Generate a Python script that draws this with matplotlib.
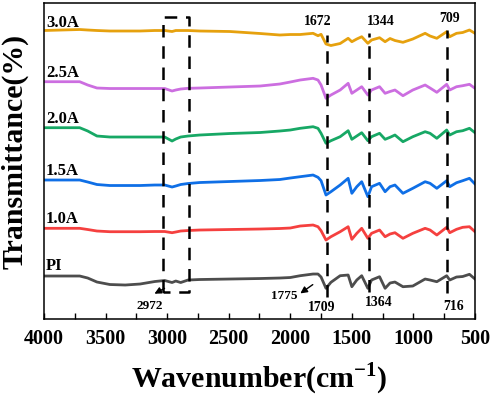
import numpy as np
import matplotlib
matplotlib.use("Agg")
import matplotlib.pyplot as plt

# -- data (arbitrary transmittance units, curves stacked) --
wavenumber = [4000, 3710, 3645, 3570, 3465, 3340, 3220, 3100, 3020, 2960, 2930, 2890,
              2830, 2735, 2490, 2245, 2085, 2000, 1920, 1815, 1775, 1750, 1710, 1670,
              1595, 1530, 1500, 1460, 1420, 1370, 1340, 1275, 1230, 1190, 1150, 1085,
              1005, 905, 865, 810, 730, 705, 650, 600, 545, 500]

t_pi = [44, 44, 42, 38, 35.5, 35, 36, 38.5, 39.5, 37.5, 39, 37.5,
        40, 40.5, 41, 41.5, 42, 42.5, 44.3, 46, 46, 43, 31.7, 37.7,
        44.3, 45, 33.3, 40, 44.3, 31.7, 40, 43.3, 31.7, 37, 38, 33.3,
        34, 41, 40, 38.3, 44.3, 40, 43, 43.5, 45.7, 41]
t_10 = [91.7, 91.7, 90.5, 89, 88.3, 88.3, 88.3, 88.5, 88.5, 87.3, 88, 89,
        89.5, 90, 90.5, 91, 91.5, 92, 94, 95, 93.3, 89.3, 80, 83.3,
        88.3, 93.3, 80.7, 86.7, 91.7, 81.7, 86.7, 90, 83.3, 86, 87.3, 81.7,
        86.7, 91.7, 90, 85, 92.7, 87.3, 90.7, 92.7, 93.3, 88.3]
t_15 = [140, 140, 138, 135.5, 134.5, 134.5, 134.5, 135, 135, 133, 134, 135.5,
        136.5, 137.5, 138.5, 139.5, 140.5, 142, 143.3, 145, 142.7, 139.3, 125, 128.3,
        135, 141.7, 126.7, 133.3, 138.3, 123.3, 133.3, 136.7, 128.3, 133.3, 135, 126.7,
        131.7, 138.3, 136.7, 131.7, 139.3, 133.3, 137.3, 139.3, 141.7, 136]
t_20 = [192.3, 192.3, 189, 184, 183, 183, 183, 183, 183, 179, 181, 183,
        184, 185, 186.5, 187.5, 189, 190, 191.7, 193.3, 191.7, 186.7, 176.7, 179.3,
        183.3, 189.3, 180.7, 184, 187.3, 179.3, 183.3, 186.7, 180.7, 182.7, 185, 178.3,
        183.3, 188.3, 186.7, 181.7, 190, 185, 188.3, 189.3, 191.7, 187.3]
t_25 = [238.3, 238.3, 235, 232, 231.5, 231.5, 231.5, 231.5, 231.5, 229, 230, 231,
        231.7, 232, 233, 234, 236, 238, 240, 241.7, 240, 235, 221.7, 225,
        230, 236.7, 226.7, 230, 233.3, 225, 230, 233.3, 226.7, 228.5, 230, 224.3,
        230, 235, 232, 227.7, 235.7, 230, 233.3, 234.3, 235.7, 231.7]
t_30 = [289.5, 290.5, 290, 289.5, 289, 289, 289, 289.5, 289.5, 288.5, 289.5, 289.5,
        289.5, 289, 288.5, 286.5, 285, 285.5, 285.5, 286.7, 284.3, 285.7, 276, 274.5,
        276.5, 281.7, 278.3, 281, 283.3, 276.7, 280, 282.3, 278.3, 281.5, 279.5, 277.7,
        281, 286.7, 284, 281.7, 288.3, 283.3, 286.7, 287.5, 290, 286.7]

names = ["PI", "1.0A", "1.5A", "2.0A", "2.5A", "3.0A"]
colors = ["#4d4d4d", "#f5403f", "#0f6fe6", "#17a865", "#cc6ee0", "#e6a10e"]
name_y = [54, 101, 149, 201, 247, 297]

# marked bands
band_lines = [1702, 1361, 727]
band_top = [285, 287, 290]
band_bot = [23, 28, 27]
box_x = [3034, 2823]
box_y = [28, 303]

top_labels = ["1672", "1344", "709"]
top_x = [1775, 1263, 703]
top_y = [299, 299, 302]
bot_labels = ["1709", "1364", "716"]
bot_x = [1742, 1280, 670]
bot_y = [13, 18, 14]

plt.rcParams['font.family'] = 'Liberation Serif'
plt.rcParams['font.weight'] = 'bold'
plt.rcParams['mathtext.fontset'] = 'custom'
plt.rcParams['mathtext.rm'] = 'Liberation Serif:bold'
plt.rcParams['mathtext.bf'] = 'Liberation Serif:bold'

fig = plt.figure(figsize=(4.91, 3.96), dpi=100)
ax = fig.add_axes([0.0896, 0.1944, 0.8778, 0.7980])

series = [t_pi, t_10, t_15, t_20, t_25, t_30]
for s, c, n, ny in zip(series, colors, names, name_y):
  ax.plot(wavenumber, s, color=c, lw=2.0, solid_joinstyle='round')
  ax.text(3985, ny, n, fontsize=12, fontweight='bold', ha='left', va='center')

dash = (0, (5, 3.5))
for x, y0, y1 in zip(band_lines, band_bot, band_top):
  ax.plot([x, x], [y0, y1], color='black', lw=1.8, linestyle=dash)
ax.plot([box_x[0], box_x[0], box_x[1], box_x[1], box_x[0]],
        [box_y[0], box_y[1], box_y[1], box_y[0], box_y[0]],
        color='black', lw=1.8, linestyle=dash)

for t, x, y in zip(top_labels, top_x, top_y):
  ax.text(x, y, t, fontsize=10, fontweight='bold', ha='center', va='center')
for t, x, y in zip(bot_labels, bot_x, bot_y):
  ax.text(x, y, t, fontsize=10, fontweight='bold', ha='center', va='center')

ax.annotate("", xy=(3123, 25), xytext=(3001, 33),
            arrowprops=dict(arrowstyle='-|>', color='black', lw=1, mutation_scale=10))
ax.text(3139, 14, "2972", fontsize=9.5, fontweight='bold', ha='center', va='center')
ax.annotate("", xy=(1937, 25), xytext=(1799, 37),
            arrowprops=dict(arrowstyle='-|>', color='black', lw=1, mutation_scale=10))
ax.text(2051, 24, "1775", fontsize=9.5, fontweight='bold', ha='center', va='center')

ax.set_xlim(4000, 500)
ax.set_ylim(1, 317)
ax.set_xticks(np.arange(4000, 499, -500))
ax.set_xticks(np.arange(3750, 500, -500), minor=True)
ax.tick_params(axis='x', which='both', direction='in', length=4, width=1, labelsize=14.5, pad=7)
ax.set_yticks([])
for sp in ax.spines.values():
  sp.set_linewidth(1.1)

ax.set_xlabel("Wavenumber(cm$^{-1}$)", fontsize=21.5, fontweight='bold', labelpad=9)
ax.set_ylabel("Transmittance(%)", fontsize=21.5, fontweight='bold')
ax.yaxis.set_label_coords(-0.035, 0.53)

fig.savefig("out.png", dpi=100)
